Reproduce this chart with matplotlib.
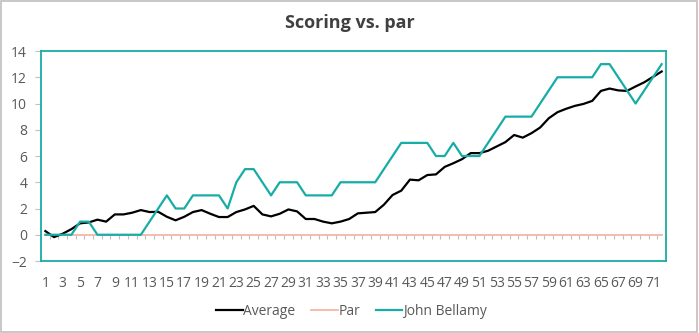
import numpy as np
import matplotlib
matplotlib.use("Agg")
import matplotlib.pyplot as plt
from matplotlib.patches import Rectangle

plt.rcParams['font.family'] = ['Open Sans', 'DejaVu Sans']

# 洞号 1..72
holes = list(range(1, 73))

average = [0.28, -0.18, 0.08, 0.43, 0.87, 0.94, 1.15, 1.0, 1.55, 1.55,
           1.68, 1.88, 1.73, 1.75, 1.37, 1.1, 1.37, 1.73, 1.88, 1.6,
           1.35, 1.35, 1.73, 1.93, 2.2, 1.55, 1.4, 1.6, 1.93, 1.78,
           1.2, 1.2, 1.0, 0.87, 1.0, 1.2, 1.63, 1.68, 1.73, 2.29,
           3.03, 3.36, 4.2, 4.15, 4.55, 4.6, 5.17, 5.45, 5.76, 6.22,
           6.22, 6.4, 6.73, 7.06, 7.6, 7.4, 7.74, 8.17, 8.88, 9.34,
           9.6, 9.82, 9.97, 10.2, 10.96, 11.14, 11.0, 10.96, 11.3, 11.62,
           12.03, 12.44]

par = [0] * 72

john_bellamy = [0, 0, 0, 0, 1, 1, 0, 0, 0, 0,
                0, 0, 1, 2, 3, 2, 2, 3, 3, 3,
                3, 2, 4, 5, 5, 4, 3, 4, 4, 4,
                3, 3, 3, 3, 4, 4, 4, 4, 4, 5,
                6, 7, 7, 7, 7, 6, 6, 7, 6, 6,
                6, 7, 8, 9, 9, 9, 9, 10, 11, 12,
                12, 12, 12, 12, 13, 13, 12, 11, 10, 11,
                12, 13]

x_labels = [str(h) for h in holes[::2]]

teal = '#17ADA6'
text_c = '#595959'

fig = plt.figure(figsize=(6.99, 3.33), dpi=100)
fig.patches.append(Rectangle((0.001, 0.002), 0.996, 0.995, transform=fig.transFigure,
                             fill=False, edgecolor='#BFBFBF', linewidth=1.2))

ax = fig.add_axes([0.0587, 0.2162, 0.8941, 0.6306])

ax.plot(holes, average, color='black', linewidth=1.6, label='Average', zorder=4)
ax.plot(holes, par, color='#F4B6A6', linewidth=1.3, label='Par', zorder=3)
ax.plot(holes, john_bellamy, color=teal, linewidth=1.6, label='John Bellamy', zorder=5)

ax.set_xlim(0.5, 72.5)
ax.set_ylim(-2, 14)
ax.set_yticks(range(-2, 15, 2))
ax.set_xticks(holes[::2])
ax.set_xticklabels(x_labels)

for sp in ax.spines.values():
    sp.set_color(teal)
    sp.set_linewidth(1.3)

ax.tick_params(axis='y', colors='#BFBFBF', labelcolor=text_c, labelsize=10,
               length=4, width=0.8, pad=6)
ax.tick_params(axis='x', length=0, labelcolor=text_c, labelsize=10, pad=11)

# 类别轴在 0 处，刻度在类别边界
sec = ax.secondary_xaxis(0, transform=ax.transData)
sec.set_xticks(np.arange(0.5, 73, 1))
sec.tick_params(axis='x', direction='out', length=3, width=0.8, colors='#BFBFBF',
                labelbottom=False)
sec.spines['bottom'].set_visible(False)

fig.text(0.5, 0.93, 'Scoring vs. par', ha='center', va='center',
         fontsize=13, fontweight='bold', color='#404040')

fig.legend(loc='center', bbox_to_anchor=(0.503, 0.066), ncol=3, frameon=False,
           fontsize=10, handlelength=1.9, handletextpad=0.05, columnspacing=1.15,
           labelcolor=text_c)

fig.savefig('out.png', dpi=100)
